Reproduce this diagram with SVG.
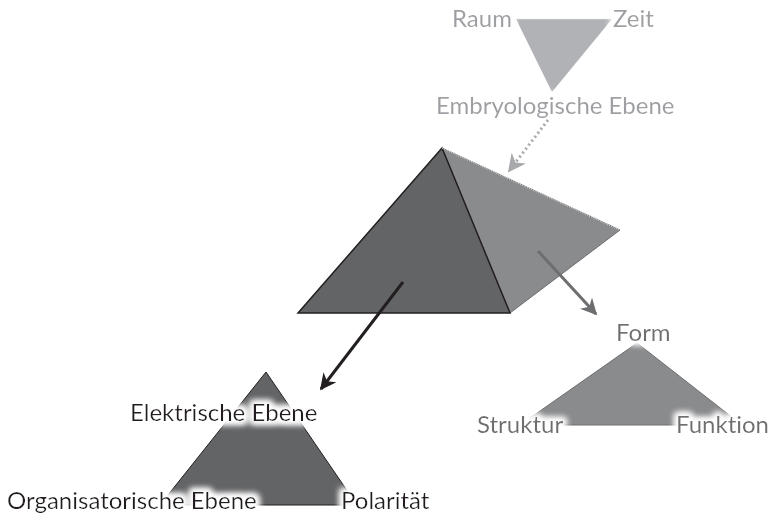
<svg xmlns="http://www.w3.org/2000/svg" width="770" height="515" viewBox="0 0 770 515">
<defs>
<filter id="halo" x="-20%" y="-40%" width="140%" height="180%">
<feMorphology in="SourceAlpha" operator="dilate" radius="3" result="d"/>
<feGaussianBlur in="d" stdDeviation="3" result="b"/>
<feFlood flood-color="#fff"/>
<feComposite in2="b" operator="in" result="w"/>
<feMerge><feMergeNode in="w"/><feMergeNode in="w"/><feMergeNode in="SourceGraphic"/></feMerge>
</filter>
<marker id="ah-dark" viewBox="0 0 10 10" refX="9" refY="5" markerWidth="5.5" markerHeight="5.5" orient="auto"><path d="M0,0 L10,5 L0,10 L3,5 Z" fill="#231f20"/></marker>
<marker id="ah-gray" viewBox="0 0 10 10" refX="9" refY="5" markerWidth="5.5" markerHeight="5.5" orient="auto"><path d="M0,0 L10,5 L0,10 L3,5 Z" fill="#6d6e70"/></marker>
<marker id="ah-light" viewBox="0 0 10 10" refX="9" refY="5" markerWidth="6" markerHeight="6" orient="auto"><path d="M0,0 L10,5 L0,10 L3,5 Z" fill="#a7a9ac"/></marker>
</defs>
<style>
text{font-family:Lato,"Noto Sans","Liberation Sans",sans-serif;font-size:24px;font-variant-ligatures:none;filter:url(#halo)}
.lt{fill:#9d9fa2}
.dk{fill:#231f20}
.gy{fill:#6d6e70}
</style>
<g id="zeit-dreieck">
<polygon points="516,19 612,19 552,92" fill="#b0b2b5"/>
<line x1="516" y1="19" x2="612" y2="19" stroke="#e6e7e8" stroke-width="1" stroke-dasharray="1,1"/>
<text class="lt" x="452" y="27">Raum</text>
<text class="lt" x="613" y="27">Zeit</text>
<text class="lt" x="436" y="114">Embryologische Ebene</text>
</g>
<g id="pyramide">
<polygon points="442,148 510,313 620,230" fill="#8a8b8d" stroke="#6d6e70" stroke-width="1"/>
<polygon points="442,148 298,313 510,313" fill="#636466" stroke="#231f20" stroke-width="1.5"/>
<line x1="442" y1="148" x2="620" y2="230" stroke="#d1d3d4" stroke-width="1.5" stroke-dasharray="1,1"/>
</g>
<g id="elektrisch">
<polygon points="266,372 160,505 357,505" fill="#636466" stroke="#231f20" stroke-width="1"/>
<text class="dk" x="130" y="421">Elektrische Ebene</text>
<text class="dk" x="7" y="509">Organisatorische Ebene</text>
<text class="dk" x="341" y="509">Polarität</text>
</g>
<g id="form">
<polygon points="637,343 520,425 742,425" fill="#8a8b8d" stroke="#6d6e70" stroke-width="1"/>
<text class="gy" x="616" y="341">Form</text>
<text class="gy" x="477" y="433">Struktur</text>
<text class="gy" x="676" y="433">Funktion</text>
</g>
<g id="connectors">
<line x1="548" y1="120" x2="509" y2="171" stroke="#a7a9ac" stroke-width="3" stroke-dasharray="2,3" marker-end="url(#ah-light)"/>
<line x1="403" y1="282" x2="321" y2="389" stroke="#231f20" stroke-width="3" marker-end="url(#ah-dark)"/>
<line x1="538" y1="251" x2="596" y2="314" stroke="#6d6e70" stroke-width="3" marker-end="url(#ah-gray)"/>
</g>
</svg>
